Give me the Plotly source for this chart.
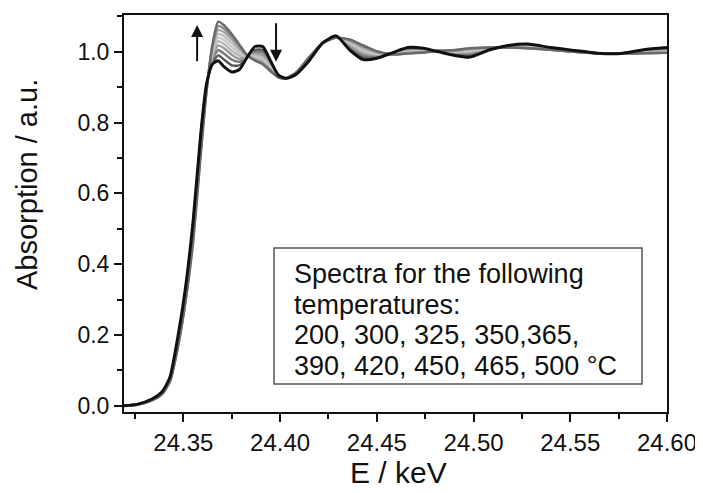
import plotly.graph_objects as go

energy_keV = [24.318, 24.326, 24.334, 24.339, 24.343, 24.347, 24.351, 24.355,
              24.359, 24.362, 24.365, 24.368, 24.371, 24.375, 24.379, 24.383,
              24.387, 24.391, 24.395, 24.399, 24.403, 24.408,
              24.415, 24.422, 24.429, 24.436, 24.443, 24.450, 24.458, 24.466,
              24.474, 24.482, 24.490, 24.498, 24.508, 24.518, 24.528, 24.540,
              24.552, 24.564, 24.576, 24.588, 24.600]

abs_200 = [0.000, 0.004, 0.020, 0.040, 0.080, 0.190, 0.330, 0.520,
           0.770, 0.910, 0.965, 0.975, 0.958, 0.943, 0.950, 0.985, 1.015, 1.015, 0.975, 0.935, 0.925, 0.935,
           0.975, 1.025, 1.045, 1.005, 0.978, 0.982, 0.997, 1.012, 1.010, 1.000, 0.990, 0.985, 1.005, 1.018, 1.022, 1.012, 1.004, 0.996, 0.995, 1.006, 1.012]
abs_300 = [0.000, 0.004, 0.019, 0.038, 0.077, 0.180, 0.320, 0.510,
           0.765, 0.905, 0.970, 0.990, 0.978, 0.962, 0.962, 0.985, 1.005, 1.005, 0.972, 0.935, 0.925, 0.936,
           0.977, 1.025, 1.044, 1.010, 0.985, 0.985, 0.996, 1.008, 1.007, 1.001, 0.994, 0.990, 1.006, 1.016, 1.019, 1.011, 1.003, 0.996, 0.995, 1.003, 1.008]
abs_325 = [0.000, 0.004, 0.019, 0.037, 0.075, 0.178, 0.315, 0.500,
           0.760, 0.905, 0.978, 1.005, 0.995, 0.978, 0.972, 0.985, 1.000, 0.998, 0.968, 0.934, 0.925, 0.937,
           0.978, 1.025, 1.043, 1.014, 0.990, 0.988, 0.995, 1.005, 1.005, 1.001, 0.996, 0.995, 1.007, 1.015, 1.017, 1.010, 1.002, 0.996, 0.995, 1.001, 1.005]
abs_350 = [0.000, 0.004, 0.018, 0.036, 0.074, 0.175, 0.310, 0.495,
           0.755, 0.900, 0.985, 1.018, 1.010, 0.992, 0.980, 0.988, 0.995, 0.990, 0.963, 0.933, 0.925, 0.937,
           0.979, 1.025, 1.042, 1.018, 0.995, 0.991, 0.994, 1.003, 1.003, 1.002, 0.998, 0.998, 1.008, 1.014, 1.015, 1.009, 1.002, 0.996, 0.995, 1.000, 1.003]
abs_365 = [0.000, 0.003, 0.018, 0.035, 0.073, 0.172, 0.305, 0.490,
           0.750, 0.900, 0.992, 1.030, 1.022, 1.003, 0.988, 0.988, 0.990, 0.984, 0.958, 0.932, 0.925, 0.938,
           0.980, 1.025, 1.042, 1.022, 1.000, 0.993, 0.994, 1.001, 1.002, 1.002, 1.000, 1.001, 1.009, 1.013, 1.014, 1.008, 1.001, 0.996, 0.995, 0.999, 1.001]
abs_390 = [0.000, 0.003, 0.017, 0.035, 0.072, 0.170, 0.300, 0.485,
           0.745, 0.898, 0.998, 1.040, 1.033, 1.014, 0.995, 0.988, 0.986, 0.978, 0.955, 0.931, 0.925, 0.938,
           0.981, 1.025, 1.041, 1.025, 1.004, 0.995, 0.993, 0.999, 1.001, 1.002, 1.001, 1.004, 1.010, 1.013, 1.013, 1.008, 1.001, 0.996, 0.995, 0.998, 1.000]
abs_420 = [0.000, 0.003, 0.017, 0.034, 0.071, 0.167, 0.298, 0.480,
           0.740, 0.896, 1.004, 1.050, 1.044, 1.025, 1.003, 0.989, 0.982, 0.974, 0.952, 0.930, 0.925, 0.939,
           0.982, 1.025, 1.041, 1.028, 1.008, 0.997, 0.993, 0.998, 1.000, 1.003, 1.002, 1.006, 1.011, 1.012, 1.012, 1.007, 1.000, 0.996, 0.995, 0.997, 0.999]
abs_450 = [0.000, 0.003, 0.016, 0.034, 0.070, 0.165, 0.295, 0.475,
           0.735, 0.894, 1.010, 1.062, 1.055, 1.035, 1.010, 0.990, 0.979, 0.970, 0.949, 0.929, 0.925, 0.939,
           0.983, 1.025, 1.040, 1.031, 1.012, 0.999, 0.992, 0.997, 0.999, 1.003, 1.003, 1.008, 1.011, 1.012, 1.011, 1.007, 1.000, 0.996, 0.995, 0.997, 0.998]
abs_465 = [0.000, 0.003, 0.016, 0.033, 0.069, 0.162, 0.292, 0.470,
           0.720, 0.892, 1.015, 1.073, 1.065, 1.043, 1.015, 0.990, 0.977, 0.967, 0.947, 0.928, 0.925, 0.940,
           0.984, 1.025, 1.040, 1.033, 1.015, 1.000, 0.992, 0.996, 0.998, 1.003, 1.004, 1.009, 1.012, 1.012, 1.010, 1.006, 1.000, 0.996, 0.995, 0.996, 0.997]
abs_500 = [0.000, 0.003, 0.016, 0.033, 0.068, 0.160, 0.290, 0.460,
           0.710, 0.890, 1.020, 1.085, 1.075, 1.050, 1.020, 0.990, 0.975, 0.965, 0.945, 0.928, 0.925, 0.940,
           0.985, 1.025, 1.040, 1.035, 1.018, 1.002, 0.993, 0.995, 0.998, 1.003, 1.005, 1.010, 1.012, 1.012, 1.010, 1.006, 1.000, 0.996, 0.995, 0.996, 0.997]

gray_series = [(300, abs_300, "#555555"), (325, abs_325, "#7a7a7a"),
               (350, abs_350, "#9a9a9a"), (365, abs_365, "#b5b5b5"),
               (390, abs_390, "#c8c8c8"), (420, abs_420, "#bdbdbd"),
               (450, abs_450, "#a5a5a5"), (465, abs_465, "#8a8a8a"),
               (500, abs_500, "#6a6a6a")]

legend_lines = ["Spectra for the following",
                "temperatures:",
                "200, 300, 325, 350,365,",
                "390, 420, 450, 465, 500 °C"]

fig = go.Figure()
for t, vals, col in gray_series:
    fig.add_trace(go.Scatter(x=energy_keV, y=vals, mode="lines", name=f"{t} °C",
                             line=dict(color=col, width=2.4, shape="spline", smoothing=0.6)))
fig.add_trace(go.Scatter(x=energy_keV, y=abs_200, mode="lines", name="200 °C",
                         line=dict(color="#111111", width=3, shape="spline", smoothing=0.6)))

font = "Liberation Sans, Arial, sans-serif"
OFF = 8  # page body margin offset
W, H = 703 - OFF, 493 - OFF
L, T = 124 - OFF, 15 - OFF
R, B = 36, 81
pw, ph = W - L - R, H - T - B

def px(xp):
    return (xp - OFF - L) / pw

def py(yp):
    return (H - B - (yp - OFF)) / ph

fig.update_layout(
    width=W, height=H,
    margin=dict(l=L, r=R, t=T, b=B),
    paper_bgcolor="white", plot_bgcolor="white",
    showlegend=False,
    font=dict(family=font, color="#111111"),
    xaxis=dict(range=[24.3193, 24.60], tick0=24.35, dtick=0.05, tickformat=".2f",
               ticks="outside", ticklen=8, tickwidth=1.5, tickcolor="#111",
               showline=True, linecolor="#111", linewidth=2, mirror=True,
               showgrid=False, zeroline=False, automargin=False,
               minor=dict(dtick=0.025, ticks="outside", ticklen=5, tickwidth=1.5, tickcolor="#111"),
               tickfont=dict(size=24, family=font, color="#111")),
    yaxis=dict(range=[-0.0175, 1.104], tick0=0, dtick=0.2, tickformat=".1f",
               ticks="outside", ticklen=8, tickwidth=1.5, tickcolor="#111",
               showline=True, linecolor="#111", linewidth=2, mirror=True,
               showgrid=False, zeroline=False, automargin=False,
               minor=dict(dtick=0.1, ticks="outside", ticklen=5, tickwidth=1.5, tickcolor="#111"),
               tickfont=dict(size=23, family=font, color="#111")),
)

# axis titles
fig.add_annotation(xref="paper", yref="paper", x=px(398), y=py(472),
                   xanchor="center", yanchor="middle", showarrow=False,
                   text="E / keV", font=dict(size=30, family=font, color="#111"))
fig.add_annotation(xref="paper", yref="paper", x=px(27), y=py(185),
                   xanchor="center", yanchor="middle", showarrow=False, textangle=-90,
                   text="Absorption / a.u.", font=dict(size=29, family=font, color="#111"))

# text box
fig.add_shape(type="rect", xref="paper", yref="paper",
              x0=px(274), x1=px(642), y0=py(384), y1=py(248),
              line=dict(color="#555555", width=1.5), fillcolor="white")
for i, line in enumerate(legend_lines):
    fig.add_annotation(xref="paper", yref="paper", x=px(292), y=py(274 + 30.5 * i),
                       xanchor="left", yanchor="middle", align="left",
                       text=line, showarrow=False,
                       font=dict(size=27, family=font, color="#111111"))

# arrows
fig.add_annotation(x=24.3571, y=1.076, ax=24.3571, ay=0.969, xref="x", yref="y",
                   axref="x", ayref="y", text="", showarrow=True,
                   arrowhead=2, arrowsize=1.2, arrowwidth=2, arrowcolor="#111")
fig.add_annotation(x=24.3979, y=0.972, ax=24.3979, ay=1.085, xref="x", yref="y",
                   axref="x", ayref="y", text="", showarrow=True,
                   arrowhead=2, arrowsize=1.2, arrowwidth=2, arrowcolor="#111")

fig.write_html("out.html")
